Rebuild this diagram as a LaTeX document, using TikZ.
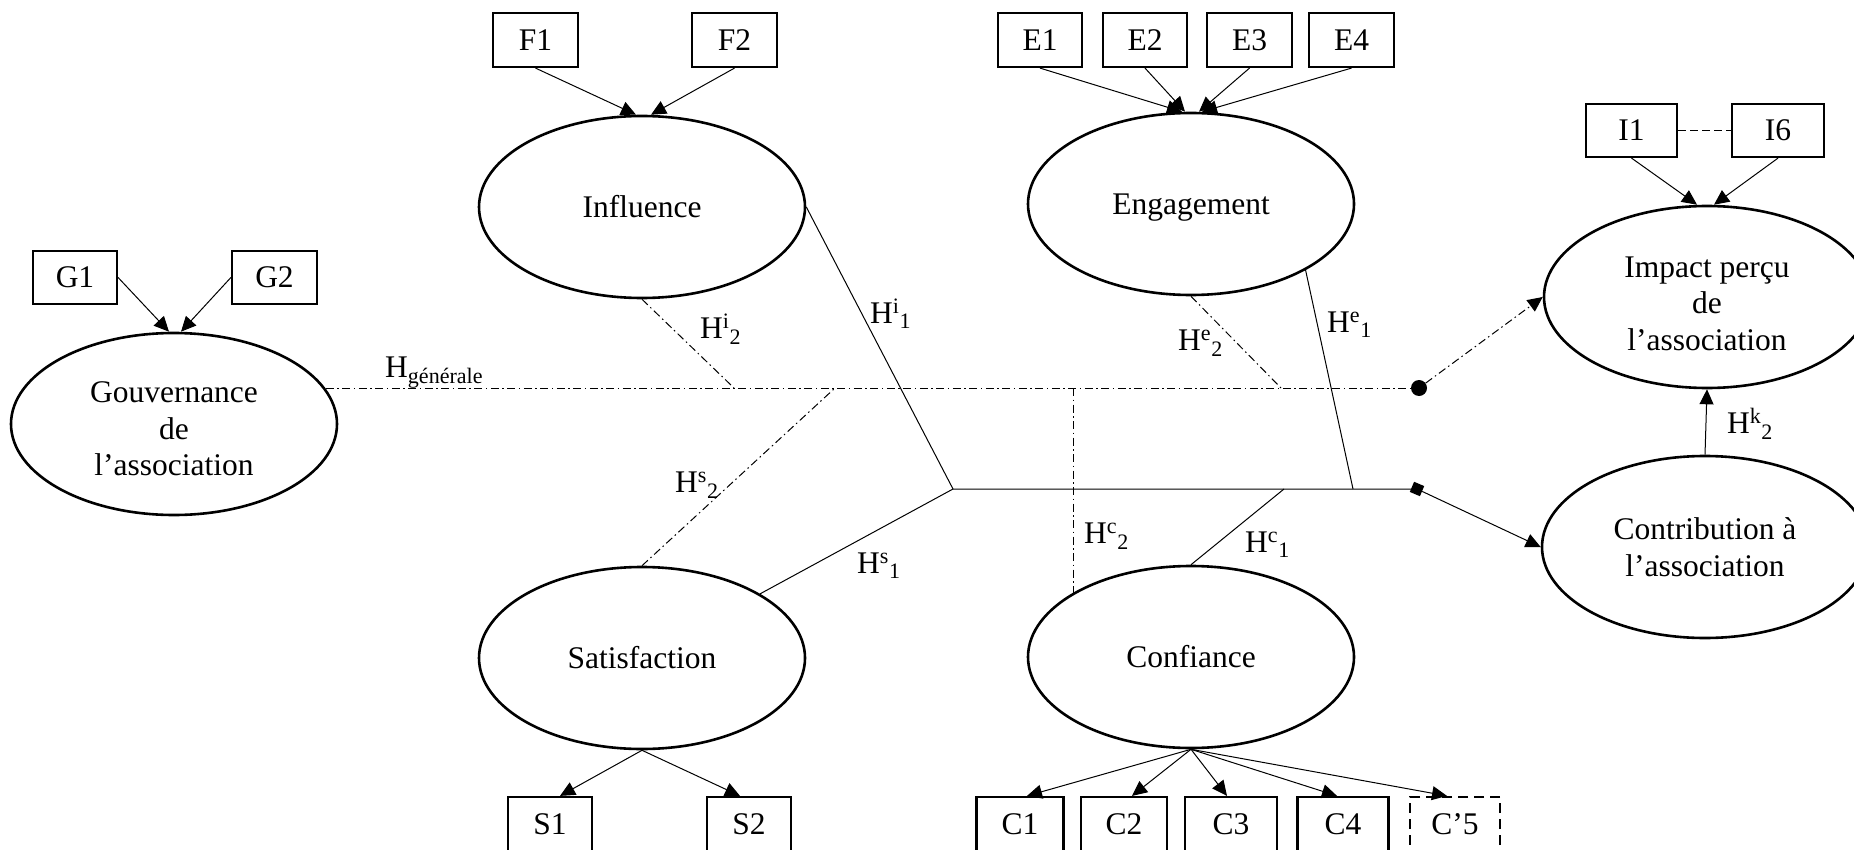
\documentclass[tikz,border=0pt]{standalone}
\usepackage{fontspec}
\setmainfont{Liberation Serif}
\usetikzlibrary{arrows.meta,shapes.geometric,calc}

\begin{document}
\begin{tikzpicture}[x=1pt,y=-1pt,
  every node/.style={font=\fontsize{31.5}{36.5}\selectfont},
  latent/.style={ellipse, draw, line width=2.6pt, minimum width=326pt,
    minimum height=182pt, inner sep=0pt, align=center},
  item/.style={draw, line width=2.2pt, minimum height=53pt, inner sep=0pt},
  tip/.style={-{Triangle[length=15pt,width=14pt]}},
  load/.style={line width=1pt, tip},
  plainpath/.style={line width=1pt},
  dashdot/.style={line width=1pt, dash pattern=on 8pt off 3.5pt on 1.5pt off 3.5pt},
  lbl/.style={anchor=base west, inner sep=0pt}
]
\useasboundingbox (0,0) rectangle (1854,850);

% latent constructs
\node[latent] (gouv) at (174,424) {\rule{0pt}{31pt}Gouvernance\\de\\l’association};
\node[latent] (infl) at (642,207) {Influence};
\node[latent] (enga) at (1191,204) {\raisebox{0pt}[\height][0pt]{Engagement}};
\node[latent] (impa) at (1707,297) {\rule{0pt}{34pt}Impact perçu\\de\\l’association};
\node[latent] (cont) at (1705,547) {Contribution à\\l’association};
\node[latent] (sati) at (642,658) {Satisfaction};
\node[latent] (conf) at (1191,657) {Confiance};

% indicators
\node[item, minimum width=84pt] (g1) at (75,277.5) {G1};
\node[item, minimum width=85pt] (g2) at (274.5,277.5) {G2};
\node[item, minimum width=85pt, minimum height=54pt] (f1) at (535.5,40) {F1};
\node[item, minimum width=85pt, minimum height=54pt] (f2) at (734.5,40) {F2};
\node[item, minimum width=84pt, minimum height=54pt] (e1) at (1040,40) {E1};
\node[item, minimum width=84pt, minimum height=54pt] (e2) at (1145,40) {E2};
\node[item, minimum width=85pt, minimum height=54pt] (e3) at (1249.5,40) {E3};
\node[item, minimum width=85pt, minimum height=54pt] (e4) at (1351.5,40) {E4};
\node[item, minimum width=91pt] (i1) at (1631.5,130.5) {I1};
\node[item, minimum width=92pt] (i6) at (1778,130.5) {I6};
\node[item, minimum width=84pt, minimum height=54pt] (s1) at (550,824) {S1};
\node[item, minimum width=84pt, minimum height=54pt] (s2) at (749,824) {S2};
\node[item, minimum width=87pt, minimum height=54pt] (c1) at (1020,824) {C1};
\node[item, minimum width=86pt, minimum height=54pt] (c2) at (1124,824) {C2};
\node[item, minimum width=92pt, minimum height=54pt] (c3) at (1231,824) {C3};
\node[item, minimum width=91pt, minimum height=54pt] (c4) at (1343,824) {C4};
\node[item, minimum width=90pt, minimum height=54pt, dash pattern=on 10pt off 6pt] (c5) at (1455,824) {C’5};

% measurement arrows
\draw[load] (g1.east) -- ($(gouv.north)+(-5,0)$);
\draw[load] (g2.west) -- ($(gouv.north)+(7,0)$);
\draw[load] (f1.south) -- ($(infl.north)+(-6,0)$);
\draw[load] (f2.south) -- ($(infl.north)+(9,0)$);
\draw[load] (e1.south) -- ($(enga.north)+(-9,0)$);
\draw[load] (e2.south) -- ($(enga.north)+(-6,0)$);
\draw[load] (e3.south) -- ($(enga.north)+(8,0)$);
\draw[load] (e4.south) -- ($(enga.north)+(11,0)$);
\draw[load] (i1.south) -- ($(impa.north)+(-10,0)$);
\draw[load] (i6.south) -- ($(impa.north)+(7,0)$);
\draw[line width=1pt, dash pattern=on 8pt off 4pt] (i1.east) -- (i6.west);
\draw[load] (sati.south) -- ($(s1.north)+(10,0)$);
\draw[load] (sati.south) -- ($(s2.north)+(-9,0)$);
\draw[load] (conf.south) -- ($(c1.north)+(7,0)$);
\draw[load] (conf.south) -- ($(c2.north)+(8,0)$);
\draw[load] (conf.south) -- ($(c3.north)+(-4,0)$);
\draw[load] (conf.south) -- ($(c4.north)+(-6,0)$);
\draw[load] (conf.south) -- ($(c5.north)+(-8,0)$);

% junction points of the hypothesis paths
\coordinate (ji2) at (734,388);
\coordinate (js2) at (835,388);
\coordinate (jc2) at (1073,388);
\coordinate (je2) at (1281,388);
\coordinate (kn) at (953,489);
\coordinate (jc1) at (1284,489);
\coordinate (je1) at (1353,489);
\node[circle, fill, inner sep=0pt, minimum size=16pt] (dot) at (1419,388) {};
\node[rectangle, fill, inner sep=0pt, minimum size=11pt, rotate=-23] (sq) at (1417,489) {};

% moderating (dash-dot) paths
\draw[dashdot] (gouv.13 |- dot.center) -- (dot.center);
\draw[dashdot] (infl.south) -- (ji2);
\draw[dashdot] (sati.north) -- (js2);
\draw[dashdot] (enga.south) -- (je2);
\draw[dashdot] (jc2) -- (jc2 |- conf.153);
\draw[dashdot, tip] (dot) -- (impa.west);

% direct (solid) paths
\draw[plainpath] (infl.east) -- (kn) -- (sq.center);
\draw[plainpath] (kn) -- (sati);
\draw[plainpath] (enga.-30) -- (je1);
\draw[plainpath] (conf.north) -- (jc1);
\draw[load] (sq) -- (cont.west);
\draw[load] (cont.north) -- (impa.south);

% hypothesis labels
\node[lbl] (lgen) at (385,377) {H\textsubscript{générale}};
\node[lbl] (li2) at (700,338) {H\textsuperscript{i}\textsubscript{2}};
\node[lbl] (li1) at (870,323) {H\textsuperscript{i}\textsubscript{1}};
\node[lbl] (le2) at (1178,350) {H\textsuperscript{e}\textsubscript{2}};
\node[lbl] (le1) at (1327,332) {H\textsuperscript{e}\textsubscript{1}};
\node[lbl] (ls2) at (675,492) {H\textsuperscript{s}\textsubscript{2}};
\node[lbl] (ls1) at (857,573) {H\textsuperscript{s}\textsubscript{1}};
\node[lbl] (lc2) at (1084,543) {H\textsuperscript{c}\textsubscript{2}};
\node[lbl] (lc1) at (1245,552) {H\textsuperscript{c}\textsubscript{1}};
\node[lbl] (lk2) at (1727,433) {H\textsuperscript{k}\textsubscript{2}};
\end{tikzpicture}
\end{document}
